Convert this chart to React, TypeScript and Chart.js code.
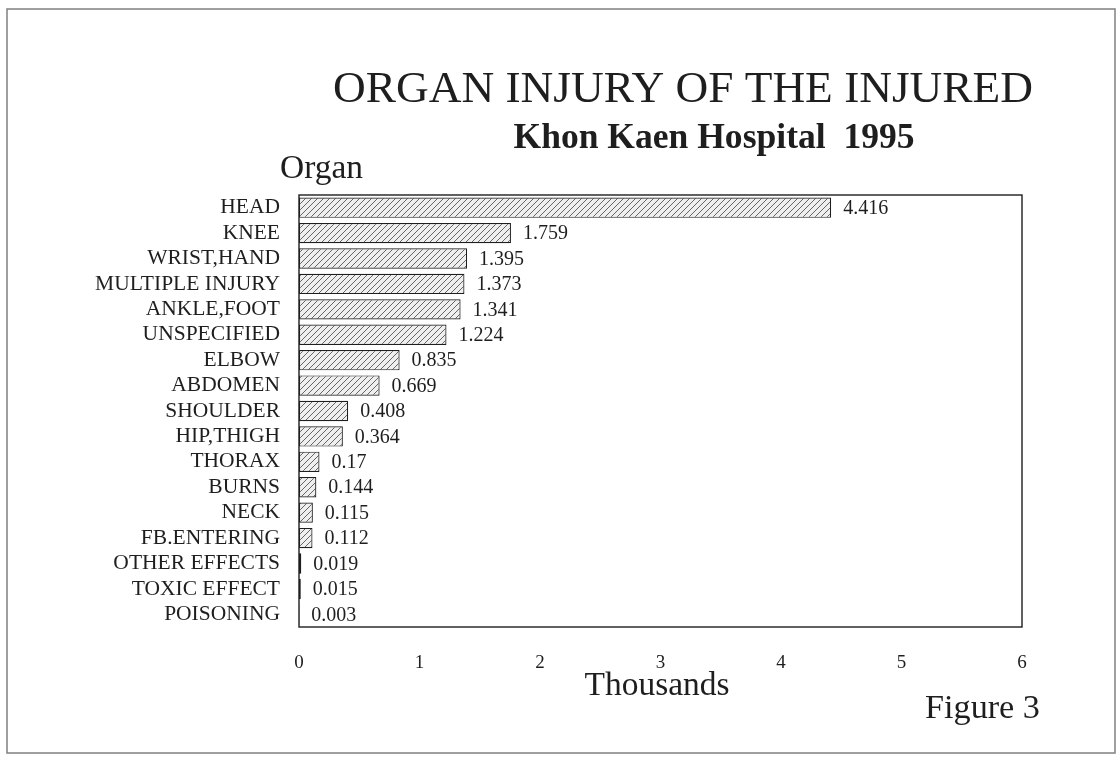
import React, { useEffect, useRef } from "react";
import { Chart, registerables } from "chart.js";

Chart.register(...registerables);

const categories = [
  "HEAD", "KNEE", "WRIST,HAND", "MULTIPLE INJURY", "ANKLE,FOOT", "UNSPECIFIED",
  "ELBOW", "ABDOMEN", "SHOULDER", "HIP,THIGH", "THORAX", "BURNS", "NECK",
  "FB.ENTERING", "OTHER EFFECTS", "TOXIC EFFECT", "POISONING",
];
const values = [
  4.416, 1.759, 1.395, 1.373, 1.341, 1.224, 0.835, 0.669, 0.408, 0.364,
  0.17, 0.144, 0.115, 0.112, 0.019, 0.015, 0.003,
];
const xTicks = [0, 1, 2, 3, 4, 5, 6];
const titleText = "ORGAN INJURY OF THE INJURED";
const subtitleText = "Khon Kaen Hospital  1995";
const yAxisTitle = "Organ";
const xAxisTitle = "Thousands";
const figureText = "Figure 3";

const SERIF = '"Liberation Serif", "DejaVu Serif", serif';
const INK = "#1e1e1e";

function makePattern(): CanvasPattern | string {
  const c = document.createElement("canvas");
  c.width = 6;
  c.height = 6;
  const g = c.getContext("2d");
  if (!g) return "#e8e8e8";
  g.fillStyle = "#efefef";
  g.fillRect(0, 0, 6, 6);
  g.strokeStyle = "#555555";
  g.lineWidth = 0.9;
  g.beginPath();
  g.moveTo(-1, 7);
  g.lineTo(7, -1);
  g.stroke();
  const p = g.createPattern(c, "repeat");
  return p || "#e8e8e8";
}

function fitText(ctx: CanvasRenderingContext2D, text: string, x: number, y: number, width: number, weight: string, align: CanvasTextAlign) {
  ctx.font = `${weight} 40px ${SERIF}`;
  const w = ctx.measureText(text).width;
  const size = (40 * width) / w;
  ctx.font = `${weight} ${size}px ${SERIF}`;
  ctx.textAlign = align;
  ctx.textBaseline = "alphabetic";
  ctx.fillText(text, x, y);
}

const decorPlugin = {
  id: "decor",
  afterDraw(chart: any) {
    const { ctx, chartArea } = chart;
    ctx.save();
    // outer frame
    ctx.strokeStyle = "#808080";
    ctx.lineWidth = 1.5;
    ctx.strokeRect(7, 9, 1108, 744);
    // plot border
    ctx.strokeStyle = INK;
    ctx.lineWidth = 1.4;
    ctx.strokeRect(chartArea.left, chartArea.top, chartArea.right - chartArea.left, chartArea.bottom - chartArea.top);
    // texts
    ctx.fillStyle = INK;
    fitText(ctx, titleText, 683, 102, 700, "normal", "center");
    fitText(ctx, subtitleText, 714, 148, 401, "bold", "center");
    fitText(ctx, yAxisTitle, 280, 178, 83, "normal", "left");
    fitText(ctx, xAxisTitle, 657, 695, 145, "normal", "center");
    fitText(ctx, figureText, 925, 718, 115, "normal", "left");
    // value labels
    const meta = chart.getDatasetMeta(0);
    ctx.font = `20px ${SERIF}`;
    ctx.textAlign = "left";
    ctx.textBaseline = "middle";
    meta.data.forEach((bar: any, i: number) => {
      ctx.fillText(String(values[i]), bar.x + 12, bar.y + 1);
    });
    ctx.restore();
  },
};

export default function App() {
  const ref = useRef<HTMLCanvasElement | null>(null);
  useEffect(() => {
    if (!ref.current) return;
    const chart = new Chart(ref.current, {
      type: "bar",
      data: {
        labels: categories,
        datasets: [
          {
            data: values,
            backgroundColor: makePattern() as any,
            borderColor: INK,
            borderWidth: 1.2,
            borderSkipped: false,
            barPercentage: 0.8,
            categoryPercentage: 1,
          },
        ],
      },
      options: {
        indexAxis: "y",
        animation: false,
        responsive: false,
        devicePixelRatio: 1,
        layout: { padding: { left: 0, right: 96, top: 195, bottom: 0 } },
        plugins: { legend: { display: false }, title: { display: false }, tooltip: { enabled: false } },
        scales: {
          x: {
            min: 0,
            max: 6,
            afterBuildTicks: (s: any) => {
              s.ticks = xTicks.map((v) => ({ value: v }));
            },
            afterFit: (s: any) => {
              s.height = 133;
            },
            grid: { display: false, drawTicks: false },
            border: { display: false },
            ticks: { color: INK, font: { family: SERIF, size: 19 }, padding: 25 },
          },
          y: {
            afterFit: (s: any) => {
              s.width = 299;
            },
            grid: { display: false, drawTicks: false },
            border: { display: false },
            ticks: { color: INK, font: { family: SERIF, size: 21.5 }, padding: 19, autoSkip: false },
          },
        },
      },
      plugins: [decorPlugin],
    });
    return () => chart.destroy();
  }, []);
  return (
    <canvas
      ref={ref}
      width={1118}
      height={760}
      style={{ position: "fixed", left: 0, top: 0, width: 1118, height: 760, background: "#fff" }}
    />
  );
}
